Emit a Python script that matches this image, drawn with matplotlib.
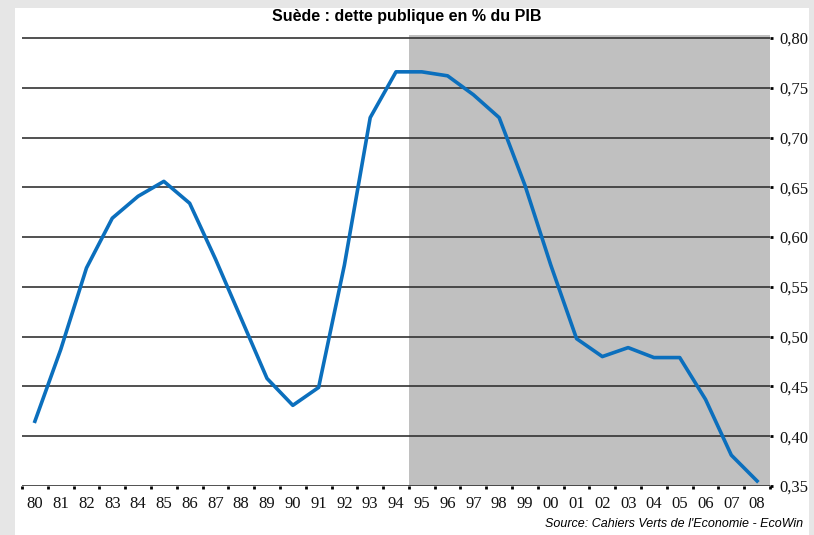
import matplotlib.pyplot as plt
import matplotlib.patches as mpatches
import numpy as np

annees = ["80", "81", "82", "83", "84", "85", "86", "87", "88", "89",
          "90", "91", "92", "93", "94", "95", "96", "97", "98", "99",
          "00", "01", "02", "03", "04", "05", "06", "07", "08"]
dette = [0.415, 0.487, 0.569, 0.619, 0.641, 0.656, 0.634, 0.578, 0.518, 0.458,
         0.431, 0.449, 0.572, 0.720, 0.766, 0.766, 0.762, 0.743, 0.720, 0.652,
         0.572, 0.498, 0.480, 0.489, 0.479, 0.479, 0.437, 0.381, 0.355]
yticks = [0.35, 0.40, 0.45, 0.50, 0.55, 0.60, 0.65, 0.70, 0.75, 0.80]
debut_ombre = "95"

fig = plt.figure(figsize=(8.14, 5.35), dpi=100, facecolor='#e6e6e6')
# panneau blanc derriere les axes
fig.patches.append(mpatches.Rectangle((15/814, 0), (809-15)/814, 1-8/535,
                                      transform=fig.transFigure, facecolor='white',
                                      edgecolor='none', zorder=-10))

ax = fig.add_axes([22/814, 1-486/535, (770-22)/814, (486-35)/535])
ax.set_facecolor('none')
x = np.arange(len(annees))

i0 = annees.index(debut_ombre) - 0.5
ax.axvspan(i0, len(annees) - 0.5, color='#c0c0c0', lw=0, zorder=1)

for v in yticks:
    ax.axhline(v, color='#333333', lw=1.2, zorder=2)

ax.plot(x, dette, color='#0b6fbd', lw=2.6, zorder=3, solid_joinstyle='round')

ax.set_xlim(-0.5, len(annees) - 0.5)
ax.set_ylim(0.35, 0.803)

for s in ax.spines.values():
    s.set_visible(False)

ax.set_xticks(x)
ax.set_xticklabels(annees, fontfamily='Liberation Serif', fontsize=12, color='#111111')
ax.tick_params(axis='x', which='major', length=0, pad=7)
ax.set_xticks(np.arange(-0.5, len(annees), 1), minor=True)
ax.tick_params(axis='x', which='minor', length=2.5, width=2, color='black', direction='out')

ax.yaxis.tick_right()
ax.set_yticks(yticks)
ax.set_yticklabels([f"{v:.2f}".replace('.', ',') for v in yticks],
                   fontfamily='Liberation Serif', fontsize=12, color='#111111')
ax.tick_params(axis='y', length=2.5, width=2, color='black', pad=4)

fig.text(407/814, 1-17/535, "Suède : dette publique en % du PIB", ha='center', va='center',
         fontfamily='Liberation Sans', fontweight='bold', fontsize=11.5)
fig.text(803/814, 1-524/535, "Source: Cahiers Verts de l'Economie - EcoWin", ha='right',
         va='center', fontfamily='Liberation Sans', fontstyle='italic', fontsize=9)

fig.savefig('out.png', dpi=100, facecolor=fig.get_facecolor())
